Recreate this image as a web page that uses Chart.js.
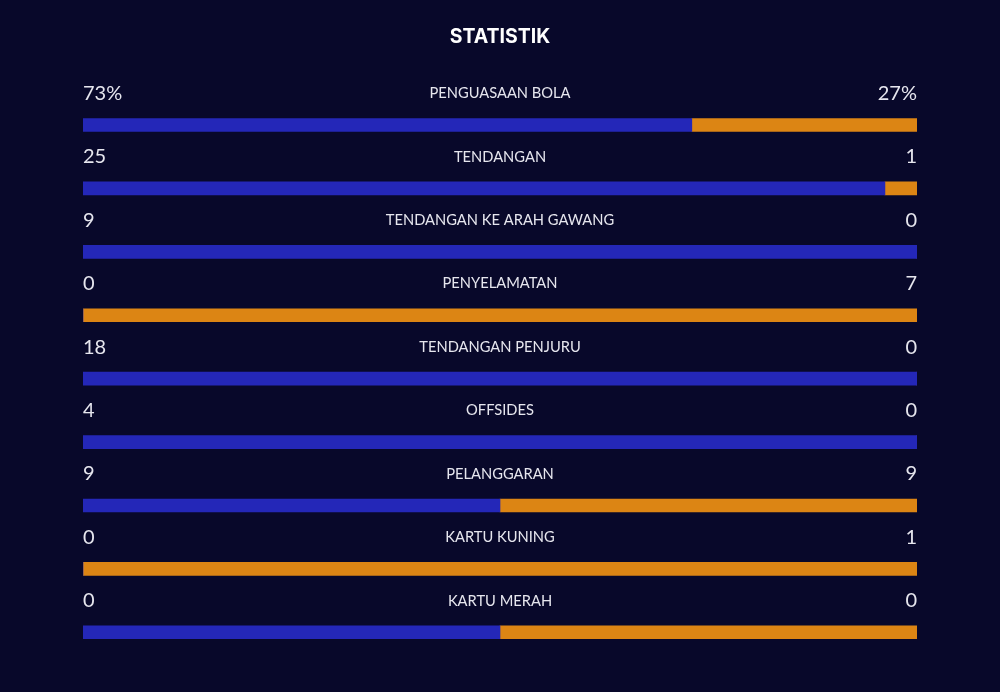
<!DOCTYPE html>
<html>
<head>
<meta charset="utf-8">
<script src="https://cdn.jsdelivr.net/npm/chart.js@4/dist/chart.umd.min.js"></script>
<style>
html,body{margin:0;padding:0;background:#08082a;}
#wrap{width:1000px;height:692px;position:relative;}
</style>
</head>
<body>
<div id="wrap"><canvas id="c" width="1000" height="692"></canvas></div>
<script>
const categories = ["PENGUASAAN BOLA","TENDANGAN","TENDANGAN KE ARAH GAWANG","PENYELAMATAN","TENDANGAN PENJURU","OFFSIDES","PELANGGARAN","KARTU KUNING","KARTU MERAH"];
const homeValues = [73,25,9,0,18,4,9,0,0];
const awayValues = [27,1,0,7,0,0,9,1,0];
const valueSuffix = ["%","","","","","","","",""];

const homeShare = homeValues.map((h,i)=>{const t=h+awayValues[i];return t===0?50:h/t*100;});
const awayShare = homeShare.map(v=>100-v);

const labelPlugin = {
  id:'statLabels',
  afterDatasetsDraw(chart){
    const ctx = chart.ctx;
    const y = chart.scales.y;
    const area = chart.chartArea;
    ctx.save();
    ctx.fillStyle = '#e6e6ee';
    ctx.textBaseline = 'middle';
    categories.forEach((cat,i)=>{
      const cy = y.getPixelForValue(i) - 31.5;
      ctx.font = '20px Lato';
      ctx.textAlign = 'left';
      ctx.fillText(homeValues[i]+valueSuffix[i], area.left, cy);
      ctx.textAlign = 'right';
      ctx.fillText(awayValues[i]+valueSuffix[i], area.right, cy);
      ctx.font = '14.7px Lato';
      ctx.textAlign = 'center';
      ctx.fillText(cat, (area.left+area.right)/2, cy);
    });
    ctx.restore();
  }
};

new Chart(document.getElementById('c'), {
  type:'bar',
  data:{
    labels:categories,
    datasets:[
      {data:homeShare, backgroundColor:'#2427b8', borderWidth:0, barThickness:13},
      {data:awayShare, backgroundColor:'#dc8514', borderWidth:0, barThickness:13}
    ]
  },
  options:{
    indexAxis:'y',
    responsive:false,
    animation:false,
    layout:{padding:{left:83,right:83,bottom:28,top:0}},
    scales:{
      x:{stacked:true,min:0,max:100,display:false},
      y:{stacked:true,display:false}
    },
    plugins:{
      legend:{display:false},
      tooltip:{enabled:false},
      title:{display:true,text:'STATISTIK',color:'#ffffff',font:{family:'Inter',size:19.5,weight:'700',lineHeight:1.2},padding:{top:25,bottom:44.9}}
    }
  },
  plugins:[labelPlugin]
});
</script>
</body>
</html>
